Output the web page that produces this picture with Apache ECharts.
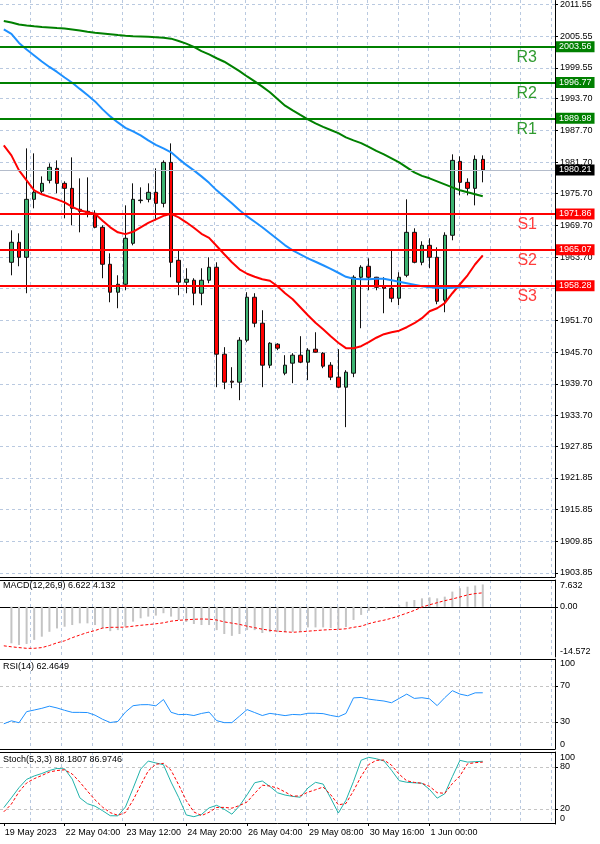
<!DOCTYPE html>
<html><head><meta charset="utf-8">
<script src="https://cdn.jsdelivr.net/npm/echarts@6/dist/echarts.min.js"></script>
<style>html,body{margin:0;padding:0;background:#fff}#c{width:600px;height:844px}</style>
</head><body><div id="c"></div>
<script>
const FONT = '"Liberation Sans", Arial, sans-serif';

// ---- Candles (H4), bars j=0..62 (slot 0 is a partially hidden bar, left empty)
const opens  = [1962.71,1966.50,1963.66,1974.64,1976.16,1978.24,1980.51,1977.67,1976.72,1972.75,1972.37,1971.99,1969.34,1962.34,1957.04,1958.55,1966.31,1974.40,1974.64,1975.97,1973.88,1981.64,1963.09,1958.93,1959.31,1956.85,1959.31,1961.77,1945.30,1940.19,1940.00,1947.95,1956.09,1951.17,1943.22,1947.19,1941.70,1943.60,1945.11,1943.79,1946.25,1945.49,1943.22,1940.95,1939.05,1941.70,1959.88,1961.96,1959.88,1958.17,1957.79,1955.90,1960.25,1968.39,1962.71,1965.93,1963.66,1955.52,1967.83,1981.83,1977.86,1976.72,1982.21];
const highs  = [1968.77,1968.20,1984.29,1983.35,1978.99,1981.45,1982.02,1978.05,1982.59,1978.61,1978.80,1972.56,1969.72,1964.42,1960.25,1973.50,1977.67,1976.91,1977.67,1980.51,1982.02,1985.24,1964.99,1961.58,1959.69,1961.58,1963.66,1962.71,1946.63,1942.84,1948.52,1957.04,1956.85,1953.63,1947.57,1947.38,1945.11,1945.49,1948.71,1946.44,1949.46,1945.68,1943.79,1946.25,1942.27,1960.25,1962.15,1963.47,1959.95,1959.88,1964.99,1960.82,1974.64,1969.15,1966.69,1967.26,1965.55,1968.39,1983.16,1982.78,1978.62,1982.97,1982.97];
const lows   = [1960.25,1961.96,1956.85,1972.94,1975.78,1977.67,1975.78,1971.04,1969.72,1968.39,1971.23,1969.15,1959.69,1955.14,1954.01,1957.41,1965.93,1973.88,1974.07,1970.66,1973.13,1959.88,1956.47,1956.85,1954.58,1954.58,1958.74,1939.05,1938.68,1938.86,1936.59,1947.57,1950.41,1939.05,1942.65,1946.06,1941.32,1939.81,1943.60,1940.38,1945.60,1942.65,1940.38,1938.86,1931.48,1940.95,1950.22,1957.41,1957.41,1953.06,1955.14,1954.58,1959.88,1962.52,1962.15,1961.58,1954.76,1953.25,1966.88,1975.40,1975.40,1973.50,1977.86];
const closes = [1966.50,1963.66,1974.64,1975.97,1977.67,1980.70,1977.67,1976.72,1972.94,1972.37,1972.18,1969.34,1962.34,1957.04,1958.55,1967.26,1974.64,1974.50,1975.97,1973.88,1981.64,1962.71,1958.93,1959.50,1956.85,1959.31,1961.77,1945.30,1940.00,1940.00,1947.95,1956.09,1951.17,1943.22,1947.38,1946.44,1943.22,1945.11,1943.79,1946.06,1945.68,1943.03,1940.95,1939.05,1941.89,1959.88,1961.77,1959.88,1957.98,1957.79,1955.90,1959.88,1968.39,1962.71,1965.93,1963.66,1955.33,1967.83,1982.02,1977.86,1976.72,1982.21,1980.21];

// ---- Moving averages, slots 0..63 (j=-1..62)
const maGreen = [2008.43,2008.15,2007.77,2007.58,2007.43,2007.29,2007.20,2007.10,2007.01,2006.82,2006.63,2006.40,2006.21,2006.06,2005.91,2005.76,2005.63,2005.55,2005.50,2005.44,2005.36,2005.25,2005.08,2004.64,2004.13,2003.51,2002.71,2002.09,2001.37,2000.71,1999.82,1998.93,1997.92,1996.98,1995.99,1994.93,1993.63,1992.38,1991.49,1990.62,1989.80,1989.03,1988.36,1987.78,1987.19,1986.38,1985.81,1985.28,1984.58,1983.82,1983.16,1982.40,1981.64,1980.70,1979.75,1979.09,1978.62,1978.05,1977.48,1976.91,1976.35,1975.97,1975.59,1975.21];
const maBlue  = [2006.82,2005.97,2004.26,2003.03,2001.90,2000.76,1999.72,1998.77,1997.73,1996.73,1995.56,1994.42,1993.19,1991.68,1990.35,1989.21,1988.17,1987.51,1986.75,1985.81,1984.96,1984.29,1983.54,1982.31,1981.17,1980.13,1978.99,1977.76,1976.34,1975.11,1973.88,1972.56,1971.42,1970.38,1969.34,1968.20,1967.07,1965.93,1964.99,1964.23,1963.47,1962.81,1962.15,1961.48,1960.73,1959.97,1959.59,1959.50,1959.50,1959.59,1959.59,1959.31,1959.02,1958.74,1958.46,1958.17,1957.98,1957.89,1957.79,1957.89,1957.98,1958.08,1958.17,1958.17];
const maRed   = [1984.86,1982.97,1980.13,1978.24,1976.34,1975.59,1975.11,1974.64,1974.07,1973.22,1972.56,1972.18,1971.89,1970.57,1969.34,1968.39,1968.05,1968.49,1969.34,1970.19,1970.85,1971.52,1971.89,1971.23,1970.29,1969.25,1968.11,1967.35,1965.80,1964.23,1962.71,1961.39,1960.54,1959.97,1959.50,1959.21,1958.17,1956.85,1955.71,1954.20,1952.68,1951.26,1950.03,1948.71,1947.48,1946.44,1946.44,1946.82,1947.57,1948.42,1949.09,1949.46,1949.75,1950.41,1951.17,1952.12,1953.44,1954.01,1954.96,1956.85,1958.55,1960.25,1962.34,1964.04];

// ---- MACD (12,26,9): histogram j=0..62, signal slots 0..63
const macdMain = [-10.8,-11.3,-11.0,-9.8,-8.85,-7.4,-6.4,-5.9,-5.4,-4.9,-4.9,-5.4,-6.4,-7.2,-6.9,-5.9,-4.4,-3.4,-2.9,-2.6,-1.9,-2.9,-3.9,-4.5,-5.1,-5.4,-5.4,-6.9,-8.05,-8.6,-8.05,-6.9,-6.9,-7.75,-7.5,-7.5,-7.5,-7.4,-7.4,-6.1,-6.1,-6.1,-6.3,-6.6,-6.0,-3.9,-2.4,-1.2,-0.75,-0.2,0.1,0.5,1.5,2.0,2.5,2.8,2.5,3.0,4.5,5.5,5.95,6.3,6.622];
const macdSignal = [-11.55,-11.84,-12.08,-12.29,-12.29,-12.08,-11.46,-10.66,-10.07,-9.15,-8.35,-7.61,-7.02,-6.28,-6.07,-6.07,-6.01,-5.74,-5.48,-5.27,-5.03,-4.74,-4.26,-4.00,-3.85,-3.70,-3.61,-3.67,-3.91,-4.47,-4.83,-5.21,-5.74,-6.19,-6.63,-6.96,-7.22,-7.40,-7.55,-7.40,-7.22,-7.05,-6.87,-6.75,-6.69,-6.51,-6.07,-5.74,-5.00,-4.41,-3.97,-3.40,-2.66,-1.89,-1.07,-0.09,0.59,1.21,1.81,2.31,2.90,3.52,3.91,4.132];

// ---- RSI(14), Stoch(5,3,3): slots 0..63
const rsiVals = [28,31.3,29.2,41.5,43.3,45.2,47.6,45.6,43,40.7,40.7,40.5,37.6,33,29.4,30.6,41,48.1,49.2,49.3,48,55,40.8,38.2,38.5,37.2,39.5,41,31.5,29.3,29.3,36.5,43.8,40.5,37.2,39.6,38.4,37.1,38.4,38,39.7,39.7,39.3,37.3,35.8,39.5,56.8,57.3,55.4,54.3,53.3,51.4,56.2,61,56.2,57,55.7,48.2,57,64.8,61,59.2,62.4,62.46];
const stochK = [22,36,50.5,62.3,67.2,70.7,75,78,77.3,62.8,36,27.6,24,17.5,10.4,10.2,22.9,49.5,77,88.5,85.8,83.3,58.5,36.5,11.5,9,12.2,21.6,25.3,19.6,12.6,24.5,40.2,57.5,60,52.2,43.2,39.9,38,36.8,50,58.1,55.6,35.5,14.2,32.4,59.4,89.7,93.8,91.8,88.6,75.3,60.5,58.2,57.4,56.8,48,35.5,41.8,66.2,89.5,87,87.6,88.18];
const stochD = [16,27,44.7,57.2,63.3,67.9,72.9,75,76,70,58.5,45.5,33,22.6,14.8,11,15,32.5,54,74.5,84,85.2,75.4,54.5,32,15.8,10.6,15.3,22.2,22.3,21.2,25,30,42.3,54,52.8,49.9,44.3,38.3,38.8,44,47.5,51.4,40.4,26,27.8,46,66.6,83.5,89.5,90,82.6,69.7,60.3,58,56.8,52.3,43.3,42.4,56.3,67.4,84.6,86.2,86.97];

// ---- Levels and tick labels
const resValues = [2003.56, 1996.77, 1989.98];
const resNames  = ['R3', 'R2', 'R1'];
const supValues = [1971.86, 1965.07, 1958.28];
const supNames  = ['S1', 'S2', 'S3'];
const lastPrice = 1980.21;
const priceTicks = [1903.85,1909.85,1915.85,1921.85,1927.85,1933.70,1939.70,1945.70,1951.70,1957.70,1963.70,1969.70,1975.70,1981.70,1987.70,1993.70,1999.55,2005.55,2011.55];
const macdTicks = [-14.572, 0, 7.632];
const rsiTicks = [0, 30, 70, 100];
const stochTicks = [0, 20, 80, 100];
const timeTickSlots = [0, 8, 16, 24, 32, 40, 48, 56];
const timeTickTexts = ['19 May 2023','22 May 04:00','23 May 12:00','24 May 20:00','26 May 04:00','29 May 08:00','30 May 16:00','1 Jun 00:00'];

// ---- build
const SLOTS = 73;
const categories = Array.from({length: SLOTS}, (_, i) => {
  const k = timeTickSlots.indexOf(i);
  return k >= 0 ? timeTickTexts[k] : 's' + i;
});
const candleData = ['-'].concat(opens.map((o, i) => [o, closes[i], lows[i], highs[i]]));
const histData = ['-'].concat(macdMain);

const GRID_L = -5.52, GRID_R = 45;
const SLOT_W = (600 - GRID_R - GRID_L) / SLOTS;
const panels = [
  {top: 0, height: 577, min: 1903.09, max: 2012.31},
  {top: 580, height: 77, min: -14.86, max: 7.93},
  {top: 659, height: 90, min: 0, max: 100},
  {top: 752, height: 72, min: -1.43, max: 101.43}
];
const GRIDC = '#b9c9e0';
const grids = [], xAxes = [], yAxes = [];
panels.forEach((p) => {
  grids.push({left: GRID_L, right: GRID_R, top: p.top, height: p.height, containLabel: false});
});
panels.forEach((p) => {
  grids.push({left: GRID_L + SLOT_W / 2, right: GRID_R, top: p.top, height: p.height, containLabel: false});
});
const isTimeTick = (idx) => timeTickSlots.indexOf(idx) >= 0;
panels.forEach((p, i) => {
  xAxes.push({
    type: 'category', gridIndex: i, data: categories, boundaryGap: true,
    axisLine: {show: true, lineStyle: {color: '#000', width: 1}},
    axisTick: {show: i === 3, interval: isTimeTick, alignWithLabel: true, length: 3, lineStyle: {color: '#000'}},
    axisLabel: {show: i === 3, interval: isTimeTick, formatter: (v, idx) => isTimeTick(idx) ? v : '',
      align: 'left', margin: 4, fontSize: 9, color: '#000', fontFamily: FONT, padding: [0, 0, 0, 1]},
    splitLine: {show: false}
  });
});
const gridUnits = (600 - GRID_R - (GRID_L + SLOT_W / 2)) / SLOT_W;
panels.forEach((p, i) => {
  xAxes.push({
    type: 'value', gridIndex: 4 + i, min: 0, max: gridUnits, interval: 4, position: 'top',
    axisLine: {show: i > 0, onZero: false, lineStyle: {color: '#000', width: 1}},
    axisTick: {show: false}, axisLabel: {show: false},
    splitLine: {show: true, showMinLine: false, showMaxLine: false, lineStyle: {color: GRIDC, type: [3, 3], width: 1}}
  });
});
const yLabelBase = {margin: 5, fontSize: 9, color: '#000', fontFamily: FONT,
  verticalAlignMinLabel: 'bottom', verticalAlignMaxLabel: 'top'};
const tickSets = [
  {ticks: priceTicks, labels: priceTicks, fmt: v => v.toFixed(2), split: GRIDC, main: true},
  {ticks: [0], labels: macdTicks, fmt: v => v === 0 ? '0.00' : String(v), split: GRIDC},
  {ticks: [30, 70], labels: rsiTicks, fmt: v => String(v), split: '#c4c4c4'},
  {ticks: [20, 80], labels: stochTicks, fmt: v => String(v), split: '#c4c4c4'}
];
panels.forEach((p, i) => {
  const t = tickSets[i];
  const lab = Object.assign({}, yLabelBase, {customValues: t.labels, formatter: t.fmt});
  if (t.main) { delete lab.verticalAlignMinLabel; delete lab.verticalAlignMaxLabel; }
  yAxes.push({
    type: 'value', gridIndex: i, position: 'right', min: p.min, max: p.max,
    axisLine: {show: true, lineStyle: {color: '#000', width: 1}},
    axisTick: {show: true, length: 3, customValues: t.ticks, lineStyle: {color: '#000'}},
    axisLabel: lab,
    splitLine: {show: true, lineStyle: {color: t.split, type: [3, 3], width: 1}}
  });
});
panels.forEach((p, i) => {
  yAxes.push({type: 'value', gridIndex: 4 + i, show: false, min: 0, max: 1});
});

// mark lines for levels
const tag = (v, bg) => ({show: true, position: 'end', distance: 1, formatter: v.toFixed(2),
  color: '#fff', backgroundColor: bg, padding: [1, 3, 0, 3], fontSize: 9, fontFamily: FONT, lineHeight: 10});
const nameLbl = (name, col) => ({show: true, position: 'insideEndBottom', distance: [18, 3], formatter: name,
  color: col, fontSize: 16, fontFamily: FONT, opacity: 1});
const levelLines = [];
resValues.forEach((v, i) => {
  levelLines.push({yAxis: v, lineStyle: {color: '#008000', width: 2, type: 'solid'}, label: tag(v, '#008000')});
});
supValues.forEach((v, i) => {
  levelLines.push({yAxis: v, lineStyle: {color: '#ff0000', width: 2, type: 'solid'}, label: tag(v, '#ff0000')});
});
levelLines.unshift({yAxis: lastPrice, lineStyle: {color: '#b4bccb', width: 1, type: 'solid'}, label: tag(lastPrice, '#000')});
const nameLines = [];
resValues.forEach((v, i) => {
  nameLines.push({yAxis: v, lineStyle: {color: 'rgba(0,0,0,0)', width: 0}, label: nameLbl(resNames[i], '#2f9a2f')});
});
supValues.forEach((v, i) => {
  nameLines.push({yAxis: v, lineStyle: {color: 'rgba(0,0,0,0)', width: 0}, label: nameLbl(supNames[i], '#ff3b3b')});
});

const lineS = (data, color, xi, yi, extra) => Object.assign({
  type: 'line', xAxisIndex: xi, yAxisIndex: yi, data: data, showSymbol: false, symbol: 'none',
  lineStyle: {color: color, width: 1}, itemStyle: {color: color}, silent: true, animation: false
}, extra || {});

const option = {
  animation: false,
  textStyle: {fontFamily: FONT},
  title: [
    {text: 'MACD(12,26,9) 6.622 4.132', left: 3, top: 581.5, padding: 0, textStyle: {fontSize: 9, fontWeight: 'normal', color: '#000', fontFamily: FONT}},
    {text: 'RSI(14) 62.4649', left: 3, top: 662.5, padding: 0, textStyle: {fontSize: 9, fontWeight: 'normal', color: '#000', fontFamily: FONT}},
    {text: 'Stoch(5,3,3) 88.1807 86.9746', left: 3, top: 755.5, padding: 0, textStyle: {fontSize: 9, fontWeight: 'normal', color: '#000', fontFamily: FONT}}
  ],
  grid: grids, xAxis: xAxes, yAxis: yAxes,
  series: [
    {type: 'candlestick', xAxisIndex: 0, yAxisIndex: 0, data: candleData, barWidth: 4,
      itemStyle: {color: '#3cb371', color0: '#ff0000', borderColor: '#111', borderColor0: '#111', borderWidth: 1},
      silent: true, animation: false,
      markLine: {symbol: ['none', 'none'], silent: true, animation: false, data: nameLines}},
    lineS(maRed, '#ff0000', 0, 0, {lineStyle: {color: '#ff0000', width: 2}}),
    lineS(maBlue, '#1e90ff', 0, 0, {lineStyle: {color: '#1e90ff', width: 2}}),
    lineS(maGreen, '#008000', 0, 0, {lineStyle: {color: '#008000', width: 2},
      markLine: {symbol: ['none', 'none'], silent: true, animation: false, data: levelLines}}),
    {type: 'bar', xAxisIndex: 1, yAxisIndex: 1, data: histData, barWidth: 2, itemStyle: {color: '#c4c4c4'}, silent: true, animation: false},
    lineS(macdSignal, '#ff0000', 1, 1, {lineStyle: {color: '#ff0000', width: 1, type: [3, 2]}}),
    lineS(rsiVals, '#1e90ff', 2, 2),
    lineS(stochK, '#20b2aa', 3, 3),
    lineS(stochD, '#ff0000', 3, 3, {lineStyle: {color: '#ff0000', width: 1, type: [3, 2]}})
  ]
};
const chart = echarts.init(document.getElementById('c'), null, {renderer: 'canvas'});
chart.setOption(option);
</script></body></html>
